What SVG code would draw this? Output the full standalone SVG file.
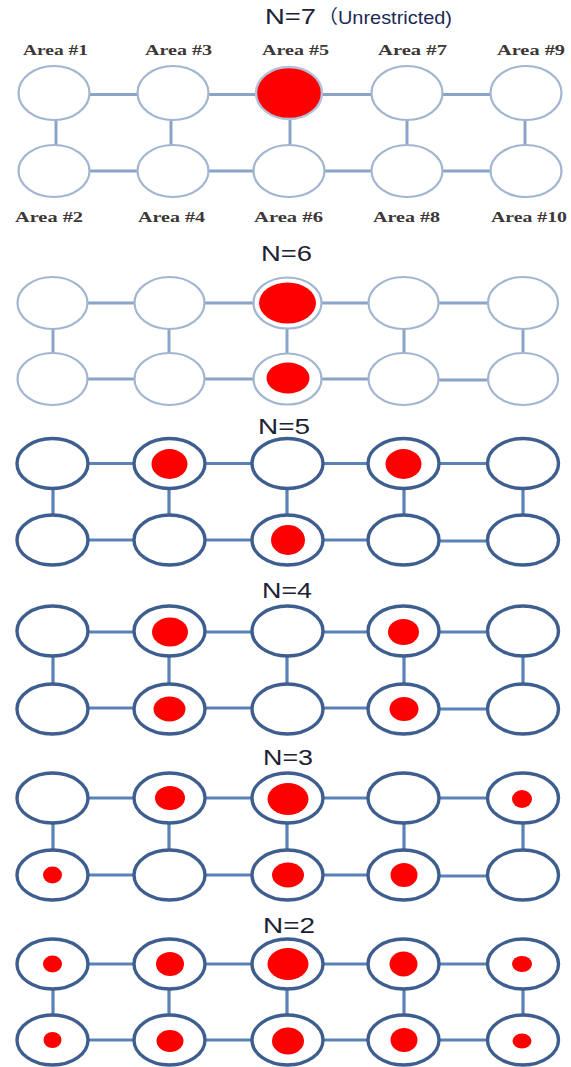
<svg xmlns="http://www.w3.org/2000/svg" width="571" height="1067" viewBox="0 0 571 1067">
  <defs>
    <style>
      .lt { fill: #ffffff; stroke: #a2b5d1; stroke-width: 2.2; }
      .dk { fill: #ffffff; stroke: #3d5e8e; stroke-width: 3.4; }
      .full { fill: #ff0000; stroke: #b3c2da; stroke-width: 2.4; }
      .dot { fill: #ff0000; }
      .el { stroke: #8aa4c8; stroke-width: 3; fill: none; }
      .ed { stroke: #5a82b8; stroke-width: 3.2; fill: none; }
      .ttl { font-family: "Liberation Sans", Arial, "Noto Sans CJK SC", sans-serif; font-size: 22px; fill: #1b2233; }
      .sub { font-family: "Liberation Sans", Arial, "Noto Sans CJK SC", sans-serif; font-size: 19px; fill: #1b2a55; }
      .lbl { font-family: "Liberation Serif", "Times New Roman", serif; font-weight: bold; font-size: 15px; fill: #3d3737; }
    </style>
  </defs>
  <rect width="571" height="1067" fill="#ffffff"/>

  <!-- section titles -->
  <g id="titles">
    <text class="ttl" x="265" y="24" textLength="51" lengthAdjust="spacingAndGlyphs">N=7</text>
    <text class="sub" x="318" y="24" textLength="134" lengthAdjust="spacingAndGlyphs">（Unrestricted)</text>
    <text class="ttl" x="261" y="261" textLength="51" lengthAdjust="spacingAndGlyphs">N=6</text>
    <text class="ttl" x="258" y="434" textLength="52" lengthAdjust="spacingAndGlyphs">N=5</text>
    <text class="ttl" x="262" y="598" textLength="50" lengthAdjust="spacingAndGlyphs">N=4</text>
    <text class="ttl" x="263" y="765" textLength="50" lengthAdjust="spacingAndGlyphs">N=3</text>
    <text class="ttl" x="263" y="933" textLength="52" lengthAdjust="spacingAndGlyphs">N=2</text>
  </g>

  <!-- area labels of the first grid -->
  <g id="labels">
    <text class="lbl" x="23" y="55" textLength="65" lengthAdjust="spacingAndGlyphs">Area #1</text>
    <text class="lbl" x="145" y="55" textLength="67" lengthAdjust="spacingAndGlyphs">Area #3</text>
    <text class="lbl" x="262" y="55" textLength="67" lengthAdjust="spacingAndGlyphs">Area #5</text>
    <text class="lbl" x="378" y="55" textLength="69" lengthAdjust="spacingAndGlyphs">Area #7</text>
    <text class="lbl" x="497" y="55" textLength="68" lengthAdjust="spacingAndGlyphs">Area #9</text>
    <text class="lbl" x="15" y="222" textLength="68" lengthAdjust="spacingAndGlyphs">Area #2</text>
    <text class="lbl" x="138" y="222" textLength="67" lengthAdjust="spacingAndGlyphs">Area #4</text>
    <text class="lbl" x="254" y="222" textLength="69" lengthAdjust="spacingAndGlyphs">Area #6</text>
    <text class="lbl" x="373" y="222" textLength="67" lengthAdjust="spacingAndGlyphs">Area #8</text>
    <text class="lbl" x="491" y="222" textLength="76" lengthAdjust="spacingAndGlyphs">Area #10</text>
  </g>

  <!-- links between neighbouring areas -->
  <g id="connectors">
    <!-- N=7 -->
    <g class="el">
      <line x1="54" y1="94.5" x2="173" y2="94.5"/><line x1="173" y1="94.5" x2="289" y2="94.5"/>
      <line x1="289" y1="94.5" x2="407" y2="94.5"/><line x1="407" y1="94.5" x2="526" y2="94.5"/>
      <line x1="54" y1="171" x2="173" y2="171"/><line x1="173" y1="171" x2="289" y2="171"/>
      <line x1="289" y1="171" x2="407" y2="171"/><line x1="407" y1="171" x2="526" y2="171"/>
      <line x1="56" y1="93" x2="56" y2="171"/><line x1="171" y1="93" x2="171" y2="171"/>
      <line x1="290" y1="93" x2="290" y2="171"/><line x1="407" y1="93" x2="407" y2="171"/>
      <line x1="525" y1="93" x2="525" y2="171"/>
    </g>
    <!-- N=6 -->
    <g class="el">
      <line x1="52.5" y1="303" x2="169.5" y2="303"/><line x1="169.5" y1="303" x2="287.5" y2="303"/>
      <line x1="287.5" y1="303" x2="403.5" y2="303"/><line x1="403.5" y1="303" x2="523" y2="303"/>
      <line x1="52.5" y1="379" x2="169.5" y2="379"/><line x1="169.5" y1="379" x2="287.5" y2="379"/>
      <line x1="287.5" y1="379" x2="403.5" y2="379"/><line x1="403.5" y1="380" x2="523" y2="380"/>
      <line x1="53" y1="303" x2="53" y2="379"/><line x1="169" y1="303" x2="169" y2="379"/>
      <line x1="287" y1="303" x2="287" y2="379"/><line x1="404" y1="303" x2="404" y2="379"/>
      <line x1="523" y1="303" x2="523" y2="379"/>
    </g>
    <!-- N=5 -->
    <g class="ed">
      <line x1="52.5" y1="463.5" x2="169.5" y2="463.5"/><line x1="169.5" y1="463.5" x2="287.5" y2="463.5"/>
      <line x1="287.5" y1="463.5" x2="403.5" y2="463.5"/><line x1="403.5" y1="463.5" x2="523" y2="463.5"/>
      <line x1="52.5" y1="540" x2="169.5" y2="540"/><line x1="169.5" y1="540" x2="287.5" y2="540"/>
      <line x1="287.5" y1="540" x2="403.5" y2="540"/><line x1="403.5" y1="541" x2="523" y2="541"/>
      <line x1="53" y1="463.5" x2="53" y2="540"/><line x1="169" y1="463.5" x2="169" y2="540"/>
      <line x1="287" y1="463.5" x2="287" y2="540"/><line x1="404" y1="463.5" x2="404" y2="540"/>
      <line x1="523" y1="463.5" x2="523" y2="540"/>
    </g>
    <!-- N=4 -->
    <g class="ed">
      <line x1="52.5" y1="632" x2="169.5" y2="632"/><line x1="169.5" y1="632" x2="287.5" y2="632"/>
      <line x1="287.5" y1="632" x2="403.5" y2="632"/><line x1="403.5" y1="632" x2="523" y2="632"/>
      <line x1="52.5" y1="708" x2="169.5" y2="708"/><line x1="169.5" y1="708" x2="287.5" y2="708"/>
      <line x1="287.5" y1="708" x2="403.5" y2="708"/><line x1="403.5" y1="709" x2="523" y2="709"/>
      <line x1="53" y1="631" x2="53" y2="709"/><line x1="169" y1="631" x2="169" y2="709"/>
      <line x1="287" y1="631" x2="287" y2="709"/><line x1="404" y1="631" x2="404" y2="709"/>
      <line x1="523" y1="631" x2="523" y2="709"/>
    </g>
    <!-- N=3 -->
    <g class="ed">
      <line x1="52.5" y1="798" x2="169.5" y2="798"/><line x1="169.5" y1="798" x2="287.5" y2="798"/>
      <line x1="287.5" y1="798" x2="403.5" y2="798"/><line x1="403.5" y1="798" x2="523" y2="798"/>
      <line x1="52.5" y1="875" x2="169.5" y2="875"/><line x1="169.5" y1="875" x2="287.5" y2="875"/>
      <line x1="287.5" y1="875" x2="403.5" y2="875"/><line x1="403.5" y1="876" x2="523" y2="876"/>
      <line x1="53" y1="798" x2="53" y2="875"/><line x1="169" y1="798" x2="169" y2="875"/>
      <line x1="287" y1="798" x2="287" y2="875"/><line x1="404" y1="798" x2="404" y2="875"/>
      <line x1="523" y1="798" x2="523" y2="875"/>
    </g>
    <!-- N=2 -->
    <g class="ed">
      <line x1="52.5" y1="964" x2="169.5" y2="964"/><line x1="169.5" y1="964" x2="287.5" y2="964"/>
      <line x1="287.5" y1="964" x2="403.5" y2="964"/><line x1="403.5" y1="964" x2="523" y2="964"/>
      <line x1="52.5" y1="1040" x2="169.5" y2="1040"/><line x1="169.5" y1="1040" x2="287.5" y2="1040"/>
      <line x1="287.5" y1="1040" x2="403.5" y2="1040"/><line x1="403.5" y1="1040" x2="523" y2="1040"/>
      <line x1="53" y1="964" x2="53" y2="1040"/><line x1="169" y1="964" x2="169" y2="1040"/>
      <line x1="287" y1="964" x2="287" y2="1040"/><line x1="404" y1="964" x2="404" y2="1040"/>
      <line x1="523" y1="964" x2="523" y2="1040"/>
    </g>
  </g>

  <!-- N=7 grid -->
  <g id="n7-a1"><ellipse class="lt" cx="54" cy="93" rx="35.5" ry="27"/></g>
  <g id="n7-a3"><ellipse class="lt" cx="173" cy="93" rx="35.5" ry="27"/></g>
  <g id="n7-a5"><ellipse class="full" cx="289" cy="93" rx="33" ry="26"/></g>
  <g id="n7-a7"><ellipse class="lt" cx="407" cy="93" rx="35.5" ry="27"/></g>
  <g id="n7-a9"><ellipse class="lt" cx="526" cy="93" rx="35.5" ry="27"/></g>
  <g id="n7-a2"><ellipse class="lt" cx="54" cy="171" rx="35.5" ry="26"/></g>
  <g id="n7-a4"><ellipse class="lt" cx="173" cy="171" rx="35.5" ry="26"/></g>
  <g id="n7-a6"><ellipse class="lt" cx="289" cy="171" rx="35.5" ry="26"/></g>
  <g id="n7-a8"><ellipse class="lt" cx="407" cy="171" rx="35.5" ry="26"/></g>
  <g id="n7-a10"><ellipse class="lt" cx="526" cy="171" rx="35.5" ry="26"/></g>

  <!-- N=6 grid -->
  <g id="n6-a1"><ellipse class="lt" cx="52.5" cy="303" rx="35" ry="26"/></g>
  <g id="n6-a3"><ellipse class="lt" cx="169.5" cy="303" rx="35" ry="26"/></g>
  <g id="n6-a5"><ellipse class="lt" cx="287.5" cy="303" rx="34" ry="25.5"/><ellipse class="dot" cx="287.5" cy="303" rx="28.5" ry="20.5"/></g>
  <g id="n6-a7"><ellipse class="lt" cx="403.5" cy="303" rx="35" ry="26"/></g>
  <g id="n6-a9"><ellipse class="lt" cx="523" cy="303" rx="35" ry="26"/></g>
  <g id="n6-a2"><ellipse class="lt" cx="52.5" cy="379" rx="35" ry="26"/></g>
  <g id="n6-a4"><ellipse class="lt" cx="169.5" cy="379" rx="35" ry="26"/></g>
  <g id="n6-a6"><ellipse class="lt" cx="287.5" cy="379" rx="34" ry="25.5"/><ellipse class="dot" cx="288" cy="378" rx="21.5" ry="15.5"/></g>
  <g id="n6-a8"><ellipse class="lt" cx="403.5" cy="379" rx="35" ry="26"/></g>
  <g id="n6-a10"><ellipse class="lt" cx="523" cy="379" rx="35" ry="26"/></g>

  <!-- N=5 grid -->
  <g id="n5-a1"><ellipse class="dk" cx="52.5" cy="463.5" rx="35.5" ry="25"/></g>
  <g id="n5-a3"><ellipse class="dk" cx="169.5" cy="463.5" rx="35.5" ry="25"/><ellipse class="dot" cx="169.5" cy="464" rx="18" ry="15"/></g>
  <g id="n5-a5"><ellipse class="dk" cx="287.5" cy="463.5" rx="35.5" ry="25"/></g>
  <g id="n5-a7"><ellipse class="dk" cx="403.5" cy="463.5" rx="35.5" ry="25"/><ellipse class="dot" cx="403.5" cy="464" rx="18" ry="15"/></g>
  <g id="n5-a9"><ellipse class="dk" cx="523" cy="463.5" rx="35.5" ry="25"/></g>
  <g id="n5-a2"><ellipse class="dk" cx="52.5" cy="540" rx="35.5" ry="25"/></g>
  <g id="n5-a4"><ellipse class="dk" cx="169.5" cy="540" rx="35.5" ry="25"/></g>
  <g id="n5-a6"><ellipse class="dk" cx="287.5" cy="540" rx="35.5" ry="25"/><ellipse class="dot" cx="288" cy="540" rx="17" ry="15"/></g>
  <g id="n5-a8"><ellipse class="dk" cx="403.5" cy="540" rx="35.5" ry="25"/></g>
  <g id="n5-a10"><ellipse class="dk" cx="523" cy="540" rx="35.5" ry="25"/></g>

  <!-- N=4 grid -->
  <g id="n4-a1"><ellipse class="dk" cx="52.5" cy="631" rx="35.5" ry="25"/></g>
  <g id="n4-a3"><ellipse class="dk" cx="169.5" cy="631" rx="35.5" ry="25"/><ellipse class="dot" cx="170" cy="632" rx="18" ry="14.5"/></g>
  <g id="n4-a5"><ellipse class="dk" cx="287.5" cy="631" rx="35.5" ry="25"/></g>
  <g id="n4-a7"><ellipse class="dk" cx="403.5" cy="631" rx="35.5" ry="25"/><ellipse class="dot" cx="403.5" cy="632" rx="15.5" ry="13"/></g>
  <g id="n4-a9"><ellipse class="dk" cx="523" cy="631" rx="35.5" ry="25"/></g>
  <g id="n4-a2"><ellipse class="dk" cx="52.5" cy="709" rx="35.5" ry="25"/></g>
  <g id="n4-a4"><ellipse class="dk" cx="169.5" cy="709" rx="35.5" ry="25"/><ellipse class="dot" cx="169.5" cy="709" rx="16" ry="12.5"/></g>
  <g id="n4-a6"><ellipse class="dk" cx="287.5" cy="709" rx="35.5" ry="25"/></g>
  <g id="n4-a8"><ellipse class="dk" cx="403.5" cy="709" rx="35.5" ry="25"/><ellipse class="dot" cx="404" cy="709" rx="14.5" ry="12"/></g>
  <g id="n4-a10"><ellipse class="dk" cx="523" cy="709" rx="35.5" ry="25"/></g>

  <!-- N=3 grid -->
  <g id="n3-a1"><ellipse class="dk" cx="52.5" cy="798" rx="35.5" ry="25"/></g>
  <g id="n3-a3"><ellipse class="dk" cx="169.5" cy="798" rx="35.5" ry="25"/><ellipse class="dot" cx="170" cy="798" rx="15" ry="12"/></g>
  <g id="n3-a5"><ellipse class="dk" cx="287.5" cy="798" rx="35.5" ry="25"/><ellipse class="dot" cx="288" cy="799" rx="20.5" ry="16"/></g>
  <g id="n3-a7"><ellipse class="dk" cx="403.5" cy="798" rx="35.5" ry="25"/></g>
  <g id="n3-a9"><ellipse class="dk" cx="523" cy="798" rx="35.5" ry="25"/><ellipse class="dot" cx="522" cy="799" rx="10" ry="9"/></g>
  <g id="n3-a2"><ellipse class="dk" cx="52.5" cy="875" rx="35.5" ry="25"/><ellipse class="dot" cx="52.5" cy="875" rx="9.5" ry="8.5"/></g>
  <g id="n3-a4"><ellipse class="dk" cx="169.5" cy="875" rx="35.5" ry="25"/></g>
  <g id="n3-a6"><ellipse class="dk" cx="287.5" cy="875" rx="35.5" ry="25"/><ellipse class="dot" cx="288" cy="875" rx="16" ry="12.5"/></g>
  <g id="n3-a8"><ellipse class="dk" cx="403.5" cy="875" rx="35.5" ry="25"/><ellipse class="dot" cx="404" cy="875" rx="13.5" ry="12"/></g>
  <g id="n3-a10"><ellipse class="dk" cx="523" cy="875" rx="35.5" ry="25"/></g>

  <!-- N=2 grid -->
  <g id="n2-a1"><ellipse class="dk" cx="52.5" cy="964" rx="35.5" ry="25"/><ellipse class="dot" cx="52.5" cy="964" rx="9.5" ry="8.5"/></g>
  <g id="n2-a3"><ellipse class="dk" cx="169.5" cy="964" rx="35.5" ry="25"/><ellipse class="dot" cx="170" cy="964" rx="14" ry="12"/></g>
  <g id="n2-a5"><ellipse class="dk" cx="287.5" cy="964" rx="35.5" ry="25"/><ellipse class="dot" cx="288" cy="964" rx="20.5" ry="16"/></g>
  <g id="n2-a7"><ellipse class="dk" cx="403.5" cy="964" rx="35.5" ry="25"/><ellipse class="dot" cx="403.5" cy="964" rx="14" ry="12.5"/></g>
  <g id="n2-a9"><ellipse class="dk" cx="523" cy="964" rx="35.5" ry="25"/><ellipse class="dot" cx="522" cy="964" rx="10" ry="8"/></g>
  <g id="n2-a2"><ellipse class="dk" cx="52.5" cy="1040" rx="35.5" ry="25"/><ellipse class="dot" cx="52.5" cy="1040" rx="9" ry="8"/></g>
  <g id="n2-a4"><ellipse class="dk" cx="169.5" cy="1040" rx="35.5" ry="25"/><ellipse class="dot" cx="170" cy="1041" rx="13.5" ry="11"/></g>
  <g id="n2-a6"><ellipse class="dk" cx="287.5" cy="1040" rx="35.5" ry="25"/><ellipse class="dot" cx="288" cy="1041" rx="16" ry="13.5"/></g>
  <g id="n2-a8"><ellipse class="dk" cx="403.5" cy="1040" rx="35.5" ry="25"/><ellipse class="dot" cx="404" cy="1040" rx="13.5" ry="12"/></g>
  <g id="n2-a10"><ellipse class="dk" cx="523" cy="1040" rx="35.5" ry="25"/><ellipse class="dot" cx="522" cy="1041" rx="9.5" ry="7.5"/></g>
</svg>
